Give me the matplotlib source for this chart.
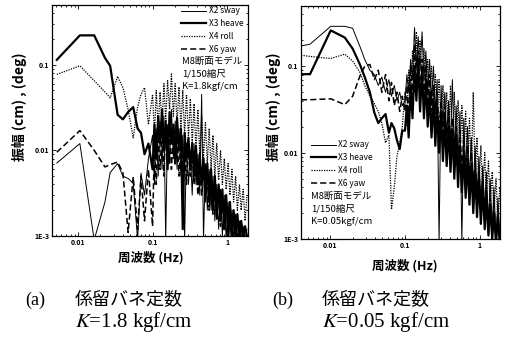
import numpy as np
import matplotlib
matplotlib.use("Agg")
import matplotlib.pyplot as plt
from matplotlib.ticker import FixedLocator, FixedFormatter, LogLocator, NullFormatter

plt.rcParams['font.family'] = ['Noto Sans CJK JP', 'DejaVu Sans']
plt.rcParams['mathtext.fontset'] = 'stix'

# shared high-frequency grid (Hz)
f_hi = [0.100, 0.106, 0.112, 0.119, 0.126, 0.134, 0.142, 0.150, 0.159, 0.169,
        0.179, 0.190, 0.201, 0.213, 0.226, 0.240, 0.254, 0.269, 0.285, 0.303,
        0.321, 0.340, 0.360, 0.382, 0.405, 0.429, 0.455, 0.482, 0.511, 0.542,
        0.574, 0.609, 0.645, 0.684, 0.725, 0.769, 0.815, 0.863, 0.915, 0.970,
        1.03, 1.09, 1.16, 1.22, 1.30, 1.37, 1.46, 1.54, 1.64, 1.74, 1.84]

# ---- panel (a)  K=1.8 kgf/cm
fa_lo = [0.0052, 0.0106, 0.0165, 0.023, 0.027, 0.034, 0.040, 0.047, 0.055,
         0.063, 0.070, 0.078, 0.088]
sway_a = [0.0071, 0.012, 0.0009, 0.0025, 0.0055, 0.007, 0.005, 0.0047, 0.0041,
          0.0009, 0.0054, 0.003, 0.008,
          0.015, 0.004, 0.018, 0.005, 0.022, 0.006, 0.025, 0.0009, 0.020, 0.007,
          0.030, 0.008, 0.022, 0.006, 0.018, 0.005, 0.015, 0.0009, 0.012, 0.004,
          0.010, 0.003, 0.012, 0.004, 0.009, 0.003, 0.045, 0.0009, 0.007, 0.002,
          0.006, 0.002, 0.005, 0.0015, 0.004, 0.0012, 0.0035, 0.001, 0.003, 0.0009,
          0.0025, 0.001, 0.002, 0.0009, 0.0018, 0.0009, 0.0015, 0.0009, 0.0013,
          0.0009, 0.0012]
heave_a = [0.114, 0.22, 0.22, 0.12, 0.097, 0.026, 0.023, 0.028, 0.032, 0.018,
           0.016, 0.009, 0.012,
           0.006, 0.020, 0.008, 0.025, 0.012, 0.030, 0.010, 0.022, 0.006, 0.028,
           0.012, 0.020, 0.007, 0.024, 0.010, 0.018, 0.0012, 0.016, 0.008, 0.014,
           0.006, 0.012, 0.005, 0.011, 0.004, 0.009, 0.004, 0.008, 0.003, 0.007,
           0.0025, 0.006, 0.002, 0.005, 0.0018, 0.004, 0.0015, 0.0035, 0.0012,
           0.003, 0.0011, 0.0025, 0.001, 0.002, 0.001, 0.0018, 0.001, 0.0015,
           0.001, 0.0013, 0.001]
roll_a = [0.077, 0.097, 0.065, 0.048, 0.041, 0.073, 0.054, 0.030, 0.014, 0.032,
          0.045, 0.054, 0.020,
          0.045, 0.015, 0.050, 0.018, 0.048, 0.020, 0.060, 0.022, 0.065, 0.030,
          0.078, 0.025, 0.060, 0.020, 0.055, 0.018, 0.050, 0.015, 0.045, 0.014,
          0.040, 0.012, 0.035, 0.010, 0.030, 0.009, 0.025, 0.008, 0.021, 0.007,
          0.018, 0.006, 0.015, 0.005, 0.012, 0.0045, 0.010, 0.004, 0.008, 0.0035,
          0.007, 0.003, 0.006, 0.0025, 0.005, 0.002, 0.004, 0.002, 0.0035, 0.0015,
          0.003]
yaw_a = [0.0095, 0.017, 0.010, 0.0064, 0.0068, 0.0073, 0.0055, 0.0011, 0.0049,
         0.0012, 0.005, 0.0015, 0.006,
         0.0013, 0.012, 0.004, 0.015, 0.006, 0.018, 0.005, 0.020, 0.008, 0.018,
         0.006, 0.016, 0.009, 0.015, 0.005, 0.014, 0.006, 0.012, 0.004, 0.011,
         0.005, 0.010, 0.004, 0.008, 0.003, 0.007, 0.003, 0.006, 0.0025, 0.005,
         0.002, 0.0045, 0.0018, 0.004, 0.0015, 0.0035, 0.0013, 0.003, 0.0012,
         0.0025, 0.001, 0.002, 0.001, 0.0018, 0.0009, 0.0015, 0.0009, 0.0013,
         0.0009, 0.0012, 0.0009]

# ---- panel (b)  K=0.05 kgf/cm
fb_lo = [0.0041, 0.0054, 0.0102, 0.0157, 0.020, 0.025, 0.029, 0.034, 0.039,
         0.044, 0.049, 0.055, 0.061, 0.066, 0.072, 0.078, 0.085, 0.092]
sway_b = [0.172, 0.18, 0.29, 0.29, 0.275, 0.17, 0.12, 0.09, 0.08, 0.06, 0.075,
          0.05, 0.07, 0.045, 0.06, 0.04, 0.05, 0.035,
          0.04, 0.08, 0.05, 0.12, 0.07, 0.28, 0.10, 0.22, 0.09, 0.25, 0.07, 0.15,
          0.05, 0.12, 0.04, 0.10, 0.03, 0.07, 0.0009, 0.06, 0.02, 0.05, 0.015,
          0.04, 0.012, 0.07, 0.01, 0.035, 0.008, 0.03, 0.0009, 0.025, 0.006, 0.02,
          0.005, 0.015, 0.004, 0.012, 0.003, 0.009, 0.0025, 0.007, 0.002, 0.006,
          0.0015, 0.005, 0.0013, 0.004, 0.001, 0.003, 0.001]
heave_b = [0.081, 0.081, 0.26, 0.215, 0.16, 0.105, 0.075, 0.05, 0.029, 0.022,
           0.025, 0.028, 0.017, 0.022, 0.019, 0.014, 0.011, 0.018,
           0.018, 0.035, 0.015, 0.06, 0.025, 0.10, 0.04, 0.12, 0.03, 0.09, 0.025,
           0.07, 0.02, 0.05, 0.015, 0.04, 0.012, 0.035, 0.01, 0.03, 0.008, 0.025,
           0.007, 0.02, 0.006, 0.018, 0.005, 0.015, 0.004, 0.012, 0.0035, 0.01,
           0.003, 0.008, 0.0025, 0.007, 0.002, 0.006, 0.0018, 0.005, 0.0015,
           0.004, 0.0013, 0.003, 0.0011, 0.0025, 0.001, 0.002, 0.0009, 0.0018,
           0.0009]
roll_b = [0.134, 0.13, 0.123, 0.138, 0.115, 0.085, 0.06, 0.045, 0.037, 0.03,
          0.022, 0.013, 0.016, 0.0022, 0.004, 0.009, 0.013, 0.02,
          0.05, 0.02, 0.09, 0.03, 0.15, 0.05, 0.25, 0.08, 0.20, 0.06, 0.16, 0.05,
          0.12, 0.04, 0.10, 0.03, 0.08, 0.025, 0.07, 0.02, 0.06, 0.018, 0.05,
          0.015, 0.06, 0.012, 0.05, 0.01, 0.04, 0.009, 0.035, 0.008, 0.03, 0.007,
          0.025, 0.006, 0.05, 0.005, 0.015, 0.004, 0.012, 0.0035, 0.01, 0.003,
          0.008, 0.0025, 0.006, 0.002, 0.005, 0.0015, 0.004]
yaw_b = [0.041, 0.041, 0.042, 0.036, 0.045, 0.077, 0.10, 0.105, 0.07, 0.09,
         0.05, 0.08, 0.04, 0.065, 0.035, 0.05, 0.03, 0.045,
         0.03, 0.06, 0.025, 0.10, 0.04, 0.18, 0.06, 0.15, 0.05, 0.12, 0.04, 0.10,
         0.035, 0.08, 0.03, 0.06, 0.02, 0.05, 0.018, 0.04, 0.015, 0.035, 0.012,
         0.03, 0.01, 0.025, 0.008, 0.02, 0.007, 0.018, 0.006, 0.015, 0.005,
         0.012, 0.004, 0.01, 0.0035, 0.008, 0.003, 0.006, 0.0025, 0.005, 0.002,
         0.004, 0.0015, 0.003, 0.0012, 0.0025, 0.001, 0.002, 0.0009]

labels = ["X2 sway", "X3 heave", "X4 roll", "X6 yaw"]
styles = [dict(color='black', lw=0.7, ls='-'),
          dict(color='black', lw=1.6, ls='-'),
          dict(color='black', lw=0.9, ls=(0, (1, 1))),
          dict(color='black', lw=1.1, ls=(0, (4, 2)))]

fig = plt.figure(figsize=(5.06, 3.45), dpi=100)
ax_a = fig.add_axes([0.103, 0.316, 0.387, 0.670])
ax_b = fig.add_axes([0.595, 0.307, 0.393, 0.676])


def draw(ax, f, series, xlim, legend_pos, text_pos, notes):
    for y, lab, st in zip(series, labels, styles):
        ax.plot(f, y, label=lab, **st)
    ax.set_xscale('log')
    ax.set_yscale('log')
    ax.set_xlim(*xlim)
    ax.set_ylim(0.001, 0.5)
    ax.xaxis.set_major_locator(FixedLocator([0.01, 0.1, 1]))
    ax.xaxis.set_major_formatter(FixedFormatter(["0.01", "0.1", "1"]))
    ax.yaxis.set_major_locator(FixedLocator([0.001, 0.01, 0.1]))
    ax.yaxis.set_major_formatter(FixedFormatter(["1E-3", "0.01", "0.1"]))
    ax.xaxis.set_minor_locator(LogLocator(subs=np.arange(2, 10)))
    ax.yaxis.set_minor_locator(LogLocator(subs=np.arange(2, 10)))
    ax.xaxis.set_minor_formatter(NullFormatter())
    ax.yaxis.set_minor_formatter(NullFormatter())
    ax.tick_params(which='both', direction='in', top=True, right=True,
                   labelsize=5, width=0.6, pad=2)
    ax.tick_params(which='major', length=3)
    ax.tick_params(which='minor', length=1.5)
    for lab in ax.get_xticklabels() + ax.get_yticklabels():
        lab.set_fontweight('bold')
    for s in ax.spines.values():
        s.set_linewidth(0.9)
    ax.legend(loc='upper left', bbox_to_anchor=legend_pos, frameon=False,
              fontsize=6, handlelength=3.0, handletextpad=0.3,
              labelspacing=0.45, borderaxespad=0, borderpad=0.2)
    ax.text(text_pos[0], text_pos[1], notes, transform=ax.transAxes,
            fontsize=6.8, va='top', ha='left', linespacing=1.45)


draw(ax_a, fa_lo + f_hi, [sway_a, heave_a, roll_a, yaw_a], (0.0045, 1.9),
     (0.65, 1.0), (0.665, 0.775), "M8断面モデル\n1/150縮尺\nK=1.8kgf/cm")
draw(ax_b, fb_lo + f_hi, [sway_b, heave_b, roll_b, yaw_b], (0.0041, 1.85),
     (0.04, 0.43), (0.05, 0.205), "M8断面モデル\n1/150縮尺\nK=0.05kgf/cm")

for x in (0.038, 0.541):
    fig.text(x, 0.69, "振幅 (cm) , (deg)", rotation=90, fontsize=10,
             fontweight='bold', ha='center', va='center')
fig.text(0.298, 0.252, "周波数 (Hz)", fontsize=9, fontweight='bold',
         ha='center', va='center')
fig.text(0.800, 0.230, "周波数 (Hz)", fontsize=9, fontweight='bold',
         ha='center', va='center')

serif = ['Liberation Serif', 'DejaVu Serif']
fig.text(0.049, 0.13, "(a)", fontsize=13, ha='left', va='center', family=serif)
fig.text(0.148, 0.13, "係留バネ定数", fontsize=13, ha='left', va='center')
fig.text(0.148, 0.067, "$K$=1.8 kgf/cm", fontsize=15, ha='left', va='center',
         family=serif)
fig.text(0.538, 0.13, "(b)", fontsize=13, ha='left', va='center', family=serif)
fig.text(0.636, 0.13, "係留バネ定数", fontsize=13, ha='left', va='center')
fig.text(0.636, 0.067, "$K$=0.05 kgf/cm", fontsize=15, ha='left', va='center',
         family=serif)

fig.savefig("out.png", dpi=100)
